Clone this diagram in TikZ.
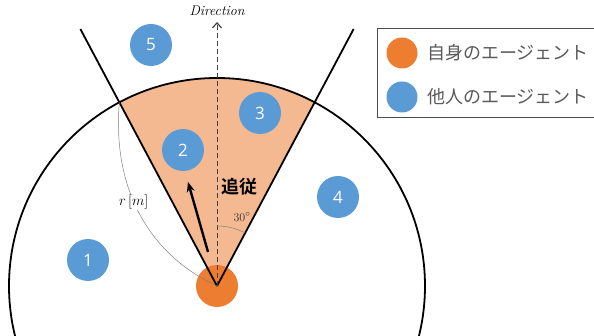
\documentclass[tikz,border=0pt]{standalone}
\usepackage{fontspec}
\newfontfamily\jpfont{Noto Sans CJK JP}
\newfontfamily\jpbold{Noto Sans CJK JP Bold}
\newfontfamily\numfont{Open Sans}
\usetikzlibrary{arrows.meta,calc}
\definecolor{peach}{HTML}{F4B990}
\definecolor{myorange}{HTML}{ED7D31}
\definecolor{myblue}{HTML}{5B9BD5}
\definecolor{legtext}{HTML}{595959}
\tikzset{
  agent/.style={circle, fill=myblue, minimum size=42pt, inner sep=0pt, text=white, font=\numfont\fontsize{17}{17}\selectfont},
  self/.style={circle, fill=myorange, minimum size=42pt, inner sep=0pt},
  legdot/.style={circle, minimum size=31pt, inner sep=0pt},
  legtxt/.style={anchor=west, text=legtext, font=\jpfont\fontsize{18}{18}\selectfont, inner sep=0pt},
  fovline/.style={line width=1.8pt, black},
  thinarc/.style={line width=0.5pt, gray},
}
\begin{document}
\begin{tikzpicture}[x=1pt,y=1pt]
\useasboundingbox (0,0) rectangle (594,336);
\clip (0,0) rectangle (594,336);
\coordinate (apex) at (217,50);
\coordinate (lint) at ($(apex)+(118:208)$);
% sector fill
\fill[peach] (apex) -- ++(118:208) arc[start angle=118, end angle=62, radius=208] -- cycle;
% range circle
\draw[line width=1.8pt] (apex) circle[radius=208];
% self agent
\node[self] (me) at (apex) {};
% FOV lines
\coordinate (ltop) at ($(apex)+(118:291)$);
\coordinate (rtop) at ($(apex)+(62:291)$);
\draw[fovline] (apex) -- (ltop);
\draw[fovline] (apex) -- (rtop);
% direction
\coordinate (dirtip) at (217,314);
\draw[dashed, dash pattern=on 5pt off 3pt, line width=1pt, black!75, -{Straight Barb[length=5pt,width=9pt,line width=1.2pt]}] (apex) -- (dirtip);
\node[font=\itshape\fontsize{14}{14}\selectfont] (dir) at (217,325) {Direction};
% angle arc
\draw[thinarc] (apex) ++(90:60) arc[start angle=90, end angle=62, radius=60];
\node[font=\fontsize{13}{13}\selectfont, text=black!80] (ang) at (242,119) {$30^\circ$};
% r[m] curve
\draw[thinarc] (lint) .. controls (112,146) and (150,81) .. (apex)
  node[pos=0.43, fill=white, inner sep=1pt, text=black, font=\fontsize{14}{14}\selectfont] (rlab) {$r\,[m]$};
% heading arrow
\coordinate (ha) at (208,84);
\coordinate (hb) at (188,154);
\draw[line width=2.4pt, -{Stealth[length=10pt,width=8pt]}] (ha) -- (hb);
% label
\node[font=\jpbold\fontsize{18}{18}\selectfont] (follow) at (239,149) {追従};
% other agents
\node[agent] (a1) at (88,76) {1};
\node[agent] (a2) at (183,186) {2};
\node[agent] (a3) at (260,223) {3};
\node[agent] (a4) at (338,139) {4};
\node[agent] (a5) at (151,291) {5};
% legend
\draw[line width=0.8pt, black!70] (377,308) rectangle (640,219);
\node[legdot, fill=myorange] (l1) at (402,283) {};
\node[legdot, fill=myblue] (l2) at (402,239) {};
\node[legtxt] (t1) at (427,283) {自身のエージェント};
\node[legtxt] (t2) at (427,239) {他人のエージェント};
\end{tikzpicture}
\end{document}
